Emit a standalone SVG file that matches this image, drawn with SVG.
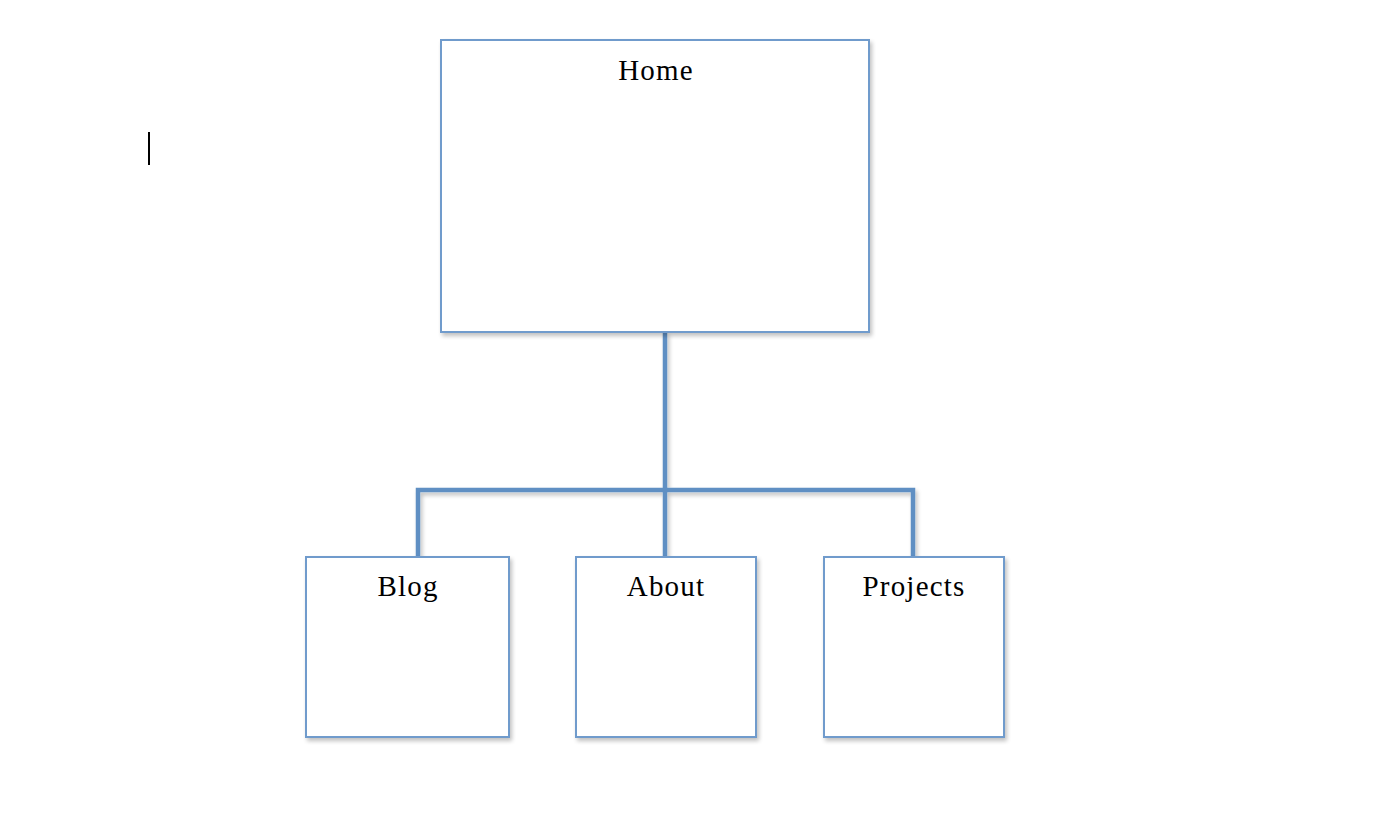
<svg xmlns="http://www.w3.org/2000/svg" width="1384" height="824" viewBox="0 0 1384 824">
<style>
.box{fill:#fff;stroke:#6f9bcc;stroke-width:2}
.lbl{font-family:"Liberation Serif","DejaVu Serif",serif;font-size:29px;letter-spacing:1.2px;fill:#000;text-anchor:middle}
.conn{fill:none;stroke:#5f8fc3;stroke-width:4.5;stroke-linejoin:miter}
</style>
<defs>
<filter id="sh" x="-5%" y="-5%" width="112%" height="115%">
<feGaussianBlur in="SourceAlpha" stdDeviation="2"/>
<feOffset dx="2" dy="3" result="b"/>
<feComponentTransfer><feFuncA type="linear" slope="0.25"/></feComponentTransfer>
<feMerge><feMergeNode/><feMergeNode in="SourceGraphic"/></feMerge>
</filter>
</defs>
<rect width="1384" height="824" fill="#fff"/>
<line x1="149" y1="132" x2="149" y2="165" stroke="#000" stroke-width="2"/>
<g id="connectors" filter="url(#sh)">
<path class="conn" d="M665 332 V490 M418 557 V490 H913 V557 M665 490 V557"/>
</g>
<g id="home"><rect class="box" x="441" y="40" width="428" height="292" filter="url(#sh)"/><text class="lbl" x="656" y="80">Home</text></g>
<g id="blog"><rect class="box" x="306" y="557" width="203" height="180" filter="url(#sh)"/><text class="lbl" x="408" y="596">Blog</text></g>
<g id="about"><rect class="box" x="576" y="557" width="180" height="180" filter="url(#sh)"/><text class="lbl" x="666" y="596">About</text></g>
<g id="projects"><rect class="box" x="824" y="557" width="180" height="180" filter="url(#sh)"/><text class="lbl" x="914" y="596">Projects</text></g>
</svg>
